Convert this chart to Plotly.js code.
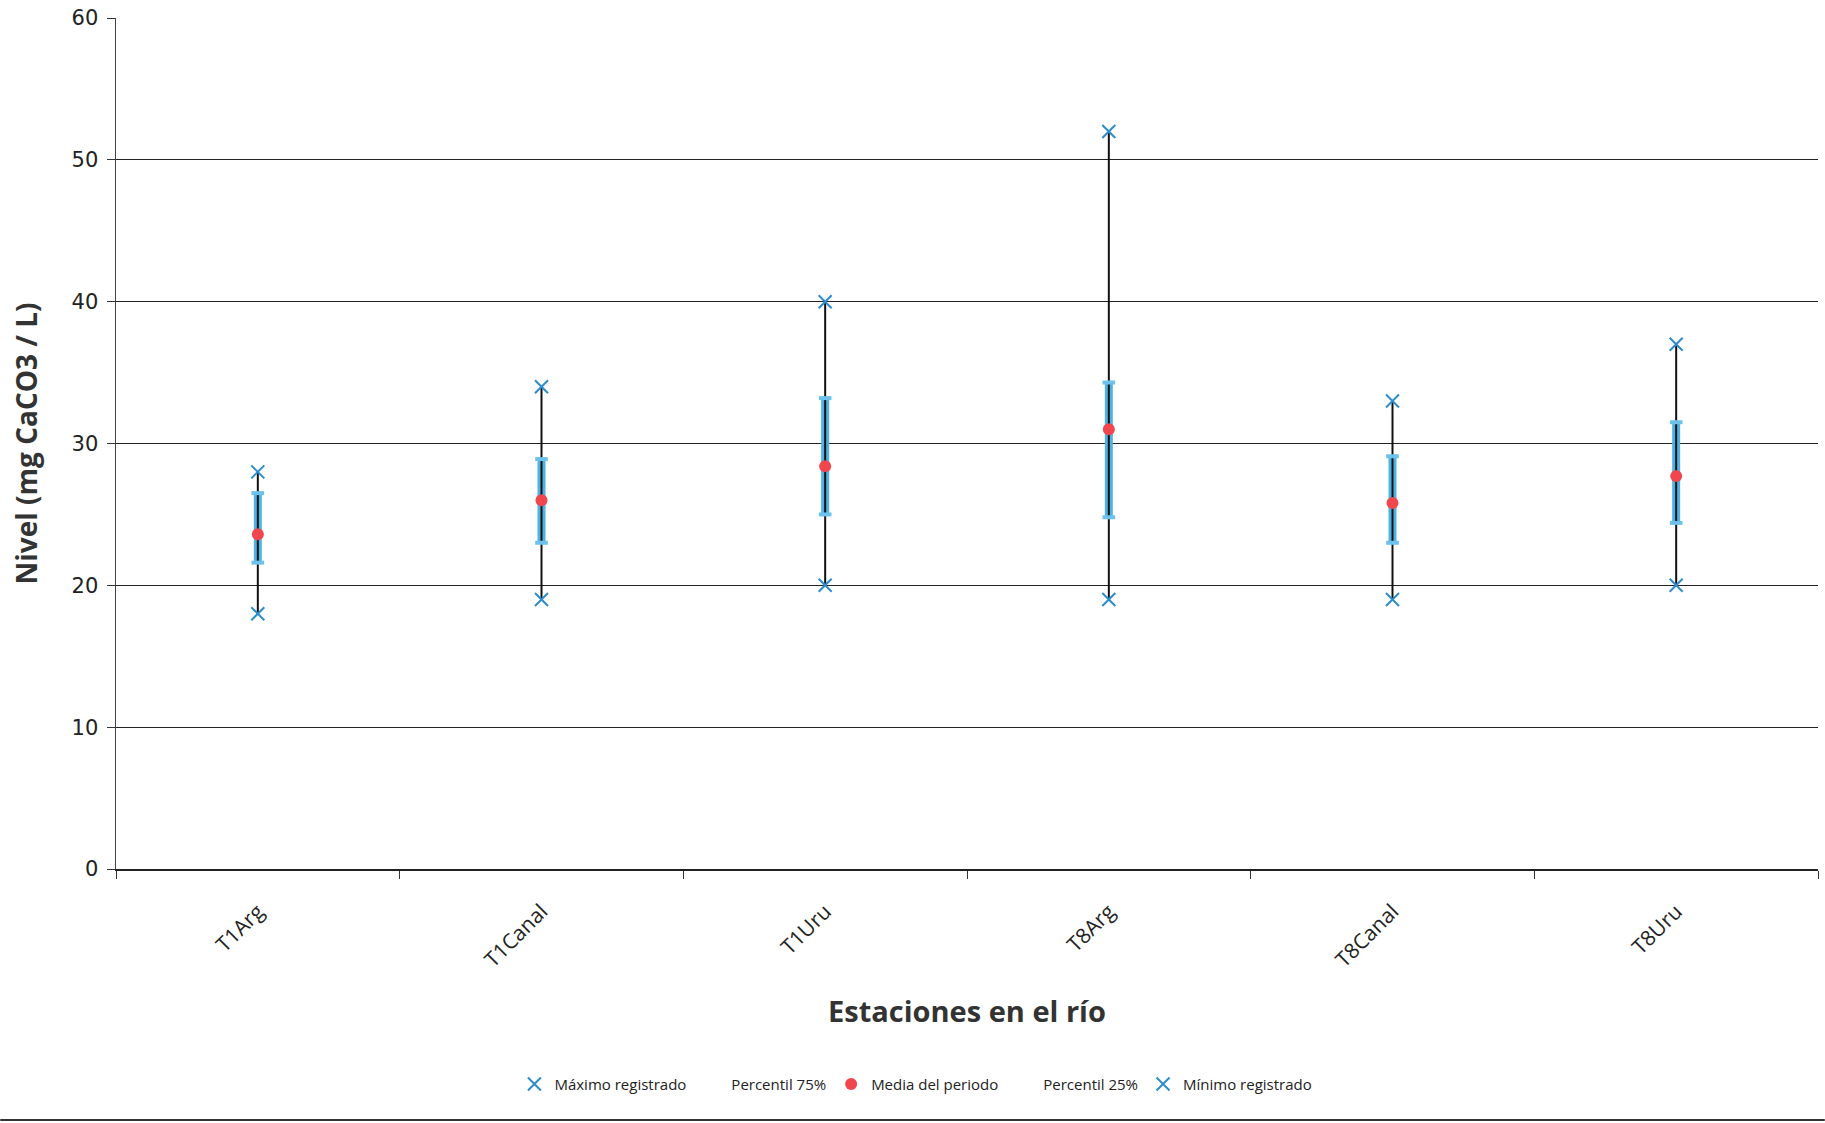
<!DOCTYPE html>
<html>
<head>
<meta charset="utf-8">
<script src="https://cdn.plot.ly/plotly-3.0.1.min.js"></script>
<style>html,body{margin:0;padding:0;background:#fff;}#chart{width:1825px;height:1123px;}</style>
</head>
<body>
<div id="chart"></div>
<script>
const stations = ["T1Arg", "T1Canal", "T1Uru", "T8Arg", "T8Canal", "T8Uru"];
const maxVals  = [28, 34, 40, 52, 33, 37];
const p75Vals  = [26.5, 28.9, 33.2, 34.3, 29.1, 31.5];
const meanVals = [23.6, 26.0, 28.4, 31.0, 25.8, 27.7];
const p25Vals  = [21.6, 23.0, 25.0, 24.8, 23.0, 24.4];
const minVals  = [18, 19, 20, 19, 19, 20];

const font = "'Open Sans', 'Liberation Sans', sans-serif";
const xBlue = "#2d8ccc";
const capBlue = "#6cc2ea";

const traces = [
  {
    name: "Percentil 75%", x: stations, y: p75Vals, type: "scatter", mode: "markers",
    marker: {color: "rgba(0,0,0,0)", size: 8}, legendrank: 2,
    error_y: {type: "data", symmetric: false, array: p75Vals.map(() => 0),
              arrayminus: p75Vals.map((v, i) => v - p25Vals[i]),
              width: 0, thickness: 8, color: "#4fb2e2"}
  },
  {
    name: "range", x: stations, y: maxVals, type: "scatter", mode: "markers",
    marker: {color: "rgba(0,0,0,0)", size: 2}, showlegend: false,
    error_y: {type: "data", symmetric: false, array: maxVals.map(() => 0),
              arrayminus: maxVals.map((v, i) => v - minVals[i]),
              width: 0, thickness: 2, color: "#111"}
  },
  {
    name: "caps75", x: stations, y: p75Vals, type: "scatter", mode: "markers", showlegend: false,
    marker: {symbol: "line-ew-open", size: 9, color: capBlue, line: {color: capBlue, width: 4}}
  },
  {
    name: "caps25", x: stations, y: p25Vals, type: "scatter", mode: "markers", showlegend: false,
    marker: {symbol: "line-ew-open", size: 9, color: capBlue, line: {color: capBlue, width: 4}}
  },
  {
    name: "Máximo registrado", x: stations, y: maxVals, type: "scatter", mode: "markers", legendrank: 1,
    marker: {symbol: "x-thin-open", size: 13, color: xBlue, line: {color: xBlue, width: 2}}
  },
  {
    name: "Media del periodo", x: stations, y: meanVals, type: "scatter", mode: "markers", legendrank: 3,
    marker: {symbol: "circle", size: 12, color: "#f0474f"}
  },
  {
    name: "Percentil 25%", x: stations, y: p25Vals, type: "scatter", mode: "markers", legendrank: 4,
    marker: {color: "rgba(0,0,0,0)", size: 8}
  },
  {
    name: "Mínimo registrado", x: stations, y: minVals, type: "scatter", mode: "markers", legendrank: 5,
    marker: {symbol: "x-thin-open", size: 13, color: xBlue, line: {color: xBlue, width: 2}}
  }
];

const layout = {
  width: 1825, height: 1123,
  margin: {l: 116, r: 7, t: 18, b: 254},
  paper_bgcolor: "#fff", plot_bgcolor: "#fff",
  font: {family: font, color: "#222"},
  showlegend: true,
  legend: {orientation: "h", x: 0.47, xanchor: "center", y: -0.253, yanchor: "middle",
           font: {size: 15, color: "#222"}, traceorder: "normal", itemwidth: 30},
  xaxis: {
    type: "category", range: [-0.5, 5.5],
    showline: true, linecolor: "#222", linewidth: 2,
    ticks: "outside", tickson: "boundaries", ticklen: 8, tickcolor: "#333",
    tickangle: -45, tickfont: {size: 21, color: "#222"}, ticklabelstandoff: 20,
    showgrid: false,
    title: {text: "<b>Estaciones en el río</b>", font: {size: 29, color: "#333"}, standoff: 30}
  },
  yaxis: {
    range: [0, 60], dtick: 10,
    showline: true, linecolor: "#444", linewidth: 1.5,
    ticks: "outside", ticklen: 8, tickcolor: "#333",
    showgrid: true, gridcolor: "#222", gridwidth: 1.3,
    zeroline: false,
    tickfont: {size: 21, color: "#222", family: "'DejaVu Sans', sans-serif"}, ticklabelstandoff: 4,
    title: {text: "<b>Nivel (mg CaCO3 / L)</b>", font: {size: 28, color: "#333"}, standoff: 26}
  },
  shapes: [
    {type: "line", xref: "paper", yref: "paper", x0: -0.068, x1: 1.004, y0: -0.295, y1: -0.295,
     line: {color: "#333", width: 2}}
  ]
};

Plotly.newPlot("chart", traces, layout, {displayModeBar: false, staticPlot: true});
</script>
</body>
</html>
